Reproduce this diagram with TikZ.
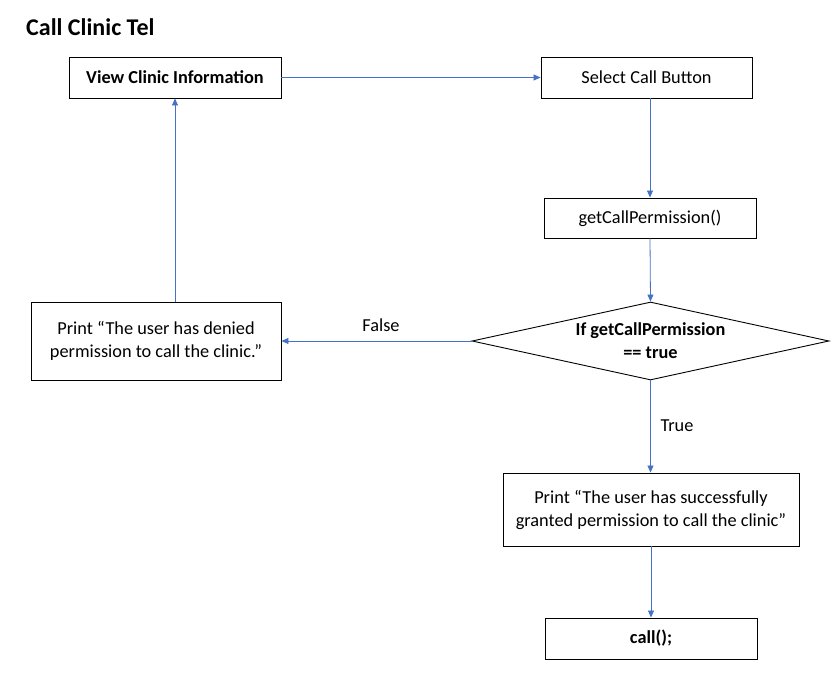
\documentclass[tikz,border=0pt]{standalone}
\usepackage{fontspec}
\setmainfont{Carlito}
\usetikzlibrary{shapes.geometric,arrows.meta}
\begin{document}
\begin{tikzpicture}[x=1pt,y=-1pt,
  box/.style={draw=black,line width=0.9pt,rectangle,inner sep=0pt,align=center,font=\fontsize{18.3}{23}\selectfont},
  lbl/.style={font=\fontsize{18.3}{22}\selectfont,inner sep=0pt},
  conn/.style={draw={rgb,255:red,68;green,114;blue,196},line width=0.8pt,-{Triangle[length=7pt,width=6pt]}}]
\useasboundingbox (0,0) rectangle (838,680);
\node[anchor=west,font=\bfseries\fontsize{24}{28}\selectfont,inner sep=0pt] (title) at (26,27) {Call Clinic Tel};
\node[box,minimum width=212pt,minimum height=41pt,font=\bfseries\fontsize{18.3}{23}\selectfont] (view) at (175,77.5) {View Clinic Information};
\node[box,minimum width=211pt,minimum height=41pt] (select) at (646.5,77.5) {Select Call Button};
\node[box,minimum width=212pt,minimum height=40pt] (getp) at (650,218) {getCallPermission()};
\node[box,draw,diamond,aspect=4.58,minimum width=357pt,minimum height=78pt,inner sep=0pt,font=\bfseries\fontsize{18.3}{23}\selectfont] (dec) at (650.5,341) {If getCallPermission\\== true};
\node[box,minimum width=250pt,minimum height=78pt] (deny) at (156,341) {Print “The user has denied\\permission to call the clinic.”};
\node[box,minimum width=296pt,minimum height=73pt] (succ) at (651,509.5) {Print “The user has successfully\\granted permission to call the clinic”};
\node[box,minimum width=212pt,minimum height=41pt,font=\bfseries\fontsize{18.3}{23}\selectfont] (call) at (651,638.5) {call();};
\draw[conn] (view.east) -- (select.west);
\draw[conn] (select.south -| getp.north) -- (getp.north);
\draw[conn] (getp.south) -- (dec.north);
\draw[conn] (dec.west) -- (deny.east);
\draw[conn] (dec.south) -- (succ.north -| dec.south);
\draw[conn] (succ.south) -- (call.north);
\draw[conn] (deny.north -| view.south) -- (view.south);
\node[lbl] (lfalse) at (381,325) {False};
\node[lbl] (ltrue) at (677,426) {True};
\end{tikzpicture}
\end{document}
